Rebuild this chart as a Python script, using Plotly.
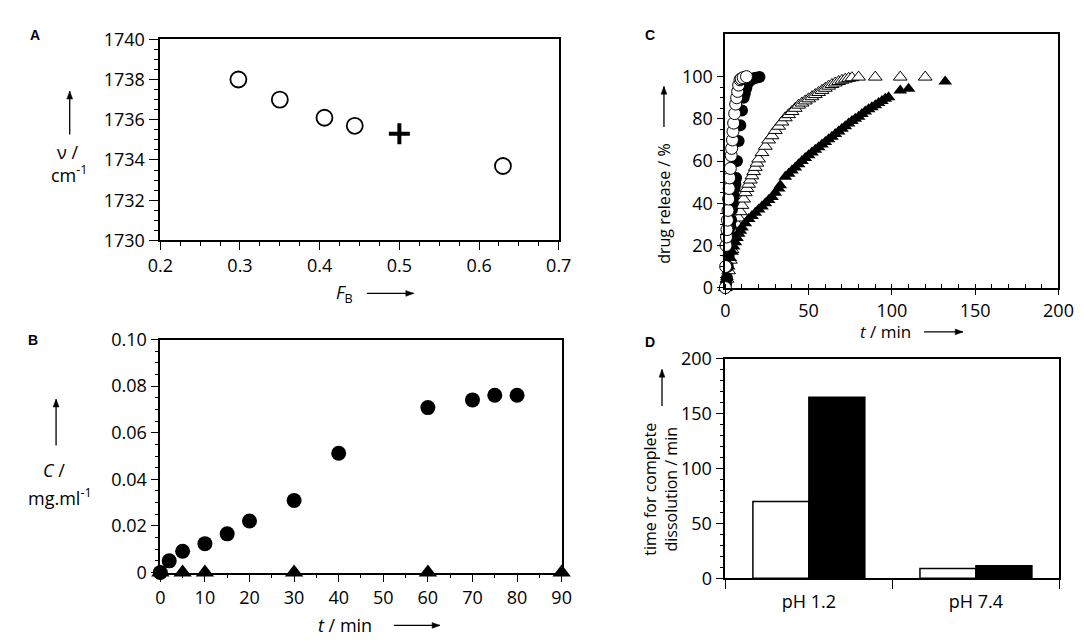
import plotly.graph_objects as go

# ---- panel A: carbonyl band position vs F_B ----
fb_open = [0.298, 0.35, 0.406, 0.444, 0.63]
nu_open = [1738.0, 1737.0, 1736.1, 1735.7, 1733.7]
fb_cross = [0.5]
nu_cross = [1735.3]

# ---- panel B: concentration vs time ----
tb_circ = [0, 2, 5, 10, 15, 20, 30, 40, 60, 70, 75, 80]
cb_circ = [0, 0.005, 0.0091, 0.0124, 0.0166, 0.0221, 0.0309, 0.0512, 0.0708, 0.0741, 0.0761, 0.0761]
tb_tri = [0, 5, 10, 30, 60, 90]
cb_tri = [0, 0, 0, 0, 0, 0]

# ---- panel C: drug release curves ----
tc_open_circ = [0, 0.2, 0.4, 0.7, 1, 1.3, 1.6, 2, 2.3, 2.6, 3, 3.5, 3.8, 4.3, 4.6, 5, 5.6,
                6.2, 6.8, 7.4, 8, 8.8, 9.5, 10.7, 12.7]
rc_open_circ = [0, 10, 20, 24, 27.5, 32, 36.6, 42, 47, 52, 56.5, 62.6, 66, 70, 74, 78, 82.5,
                87, 90, 93, 96, 98.5, 99, 99.5, 100]
tc_fill_circ = [0, 0.5, 1, 1.5, 2, 2.3, 2.7, 3, 3.5, 4, 4.5, 5, 5.5, 6, 6.5, 7, 8, 9, 10,
                11, 11.7, 12.5, 13.7, 15.6, 17, 18.5, 20.5]
rc_fill_circ = [0, 2, 4.5, 10, 15, 21, 25, 29, 32, 37, 40, 43.5, 47, 49, 52, 60, 69.5, 77, 84,
                90, 92, 94.5, 97, 98.5, 99.2, 99.5, 99.8]
tc_open_tri = [0, 1, 2, 3, 4, 5, 6, 7, 8, 9, 10, 11, 12, 13, 14, 15, 16, 17, 18, 19, 20,
               22, 24, 26, 28, 30, 32, 34, 36, 38, 40, 42, 44, 46, 48, 50, 52, 54, 56, 58,
               60, 62, 64, 66, 68, 70, 72, 74, 76, 80, 90, 105, 120]
rc_open_tri = [0, 4, 8, 13, 18, 22, 26, 30, 33, 36, 39, 42, 45, 47, 49, 51, 53, 55, 57, 59, 61,
               64, 67, 70, 72, 74.5, 76.5, 78.5, 80.5, 82, 83.5, 85, 86.5, 87.5, 88.5, 89.5,
               90.5, 91.5, 92.5, 93.5, 94.5, 95.5, 96.3, 97, 97.7, 98.3, 98.8, 99.2, 99.5,
               99.8, 99.8, 99.8, 99.8]
tc_fill_tri = [0, 1, 2, 3, 4, 5, 6, 7, 8, 9, 10, 12, 14, 16, 18, 20, 22, 24, 26, 28, 30, 32, 33,
               36, 38, 40, 42, 44, 46, 48, 50, 52, 54, 56, 58, 60, 62, 64, 66, 68, 70, 72, 74,
               76, 78, 80, 82, 84, 86, 88, 90, 92, 94, 96, 98, 105, 110, 132]
rc_fill_tri = [0, 5, 10, 14, 17, 19.5, 21.5, 23.5, 25.5, 27, 28.5, 30.5, 32.5, 34, 35.5, 37,
               38.5, 40, 41.5, 43, 45, 47, 48.5,
               52.5, 54, 55.5, 57, 58.5, 60, 61.5, 62.8, 64, 65.3, 66.5, 67.8, 69, 70.3, 71.5,
               72.8, 74, 75.3, 76.5, 77.8, 79, 80, 81, 82.3, 83.5, 84.5, 85.5, 86.5, 87.5,
               88.5, 89.5, 90.3, 93.5, 94.3, 97.7]

# ---- panel D: time for complete dissolution ----
ph_labels = ["pH 1.2", "pH 7.4"]
ph_pos = [0, 1]
diss_open = [70, 9]
diss_fill = [165, 11.5]

FONT = "Open Sans"
W, H = 1084, 640


def px(x):
    return x / W


def py(y):
    return 1 - y / H


fig = go.Figure()

# A
fig.add_trace(go.Scatter(x=fb_open, y=nu_open, mode="markers", xaxis="x", yaxis="y",
                         marker=dict(symbol="circle-open", size=16, color="black",
                                     line=dict(width=1.8, color="black")),
                         cliponaxis=False))
fig.add_trace(go.Scatter(x=fb_cross, y=nu_cross, mode="markers", xaxis="x", yaxis="y",
                         marker=dict(symbol="cross-thin", size=15, color="black",
                                     line=dict(width=4, color="black")),
                         cliponaxis=False))
# B
fig.add_trace(go.Scatter(x=tb_circ, y=cb_circ, mode="markers", xaxis="x2", yaxis="y2",
                         marker=dict(symbol="circle", size=15, color="black"),
                         cliponaxis=False))
fig.add_trace(go.Scatter(x=tb_tri, y=cb_tri, mode="markers", xaxis="x2", yaxis="y2",
                         marker=dict(symbol="triangle-up", size=16, color="black"),
                         cliponaxis=False))
# C
fig.add_trace(go.Scatter(x=tc_open_tri, y=rc_open_tri, mode="markers", xaxis="x3", yaxis="y3",
                         marker=dict(symbol="triangle-up", size=12, color="white",
                                     line=dict(width=1, color="black")),
                         cliponaxis=False))
fig.add_trace(go.Scatter(x=tc_fill_tri, y=rc_fill_tri, mode="markers", xaxis="x3", yaxis="y3",
                         marker=dict(symbol="triangle-up", size=12, color="black"),
                         cliponaxis=False))
fig.add_trace(go.Scatter(x=tc_fill_circ, y=rc_fill_circ, mode="markers", xaxis="x3", yaxis="y3",
                         marker=dict(symbol="circle", size=12, color="black"),
                         cliponaxis=False))
fig.add_trace(go.Scatter(x=tc_open_circ, y=rc_open_circ, mode="markers", xaxis="x3", yaxis="y3",
                         marker=dict(symbol="circle", size=12, color="white",
                                     line=dict(width=1, color="black")),
                         cliponaxis=False))
# D
fig.add_trace(go.Bar(x=ph_pos, y=diss_open, xaxis="x4", yaxis="y4", offsetgroup="a",
                     marker=dict(color="white", line=dict(color="black", width=1.5))))
fig.add_trace(go.Bar(x=ph_pos, y=diss_fill, xaxis="x4", yaxis="y4", offsetgroup="b",
                     marker=dict(color="black", line=dict(color="black", width=1.5))))

axis_common = dict(showline=True, linecolor="black", linewidth=1.6, mirror=True,
                   showgrid=False, zeroline=False, ticks="outside", tickcolor="black",
                   tickwidth=1.3, tickfont=dict(family=FONT, size=18, color="black"))

fig.update_layout(
    width=W, height=H, margin=dict(l=0, r=0, t=0, b=0),
    paper_bgcolor="white", plot_bgcolor="white", showlegend=False,
    barmode="group", bargap=0.33, bargroupgap=0,
    font=dict(family=FONT, color="black"),
    xaxis=dict(axis_common, domain=[px(143), px(552)], anchor="y", range=[0.2, 0.7],
               tickvals=[0.2, 0.3, 0.4, 0.5, 0.6, 0.7], ticklen=8,
               minor=dict(dtick=0.025, ticklen=4, ticks="outside", tickcolor="black")),
    yaxis=dict(axis_common, domain=[py(228), py(19)], anchor="x", range=[1730, 1740],
               dtick=2, ticklen=10,
               minor=dict(dtick=0.5, ticklen=5, ticks="outside", tickcolor="black")),
    xaxis2=dict(axis_common, domain=[px(143), px(555)], anchor="y2", range=[0, 90],
                dtick=10, ticklen=8,
                minor=dict(dtick=5, ticklen=4, ticks="outside", tickcolor="black")),
    yaxis2=dict(axis_common, domain=[py(573), py(331)], anchor="x2", range=[0, 0.1],
                tickvals=[0, 0.02, 0.04, 0.06, 0.08, 0.10],
                ticktext=["0", "0.02", "0.04", "0.06", "0.08", "0.10"], ticklen=8,
                minor=dict(dtick=0.005, ticklen=4, ticks="outside", tickcolor="black")),
    xaxis3=dict(axis_common, domain=[px(723), px(1065)], anchor="y3", range=[0, 200],
                dtick=50, ticklen=6,
                minor=dict(dtick=10, ticklen=4, ticks="inside", tickcolor="black")),
    yaxis3=dict(axis_common, domain=[py(277), py(14)], anchor="x3", range=[0, 120],
                tickvals=[0, 20, 40, 60, 80, 100], ticklen=7,
                minor=dict(tickvals=[v for v in range(0, 101, 5)], ticklen=4,
                           ticks="outside", tickcolor="black")),
    xaxis4=dict(axis_common, domain=[px(723), px(1066)], anchor="y4", range=[-0.5, 1.5],
                tickvals=ph_pos, ticktext=ph_labels, ticks="", ticklabelstandoff=6,
                minor=dict(tickvals=[-0.5, 0.5, 1.5], ticklen=9, ticks="outside",
                           tickcolor="black", tickwidth=1.3)),
    yaxis4=dict(axis_common, domain=[py(579), py(351)], anchor="x4", range=[0, 200],
                dtick=50, ticklen=8,
                minor=dict(dtick=10, ticklen=4, ticks="outside", tickcolor="black")),
)

ann = []
shapes = []


def text(x, y, s, size=18, angle=0, family=FONT):
    ann.append(dict(x=px(x), y=py(y), xref="paper", yref="paper", text=s, showarrow=False,
                    xanchor="center", yanchor="middle", textangle=angle,
                    font=dict(family=family, size=size, color="black")))


def arrow(x0, y0, x1, y1):
    # thin line with a small filled head at (x1, y1), in pixel coords
    hl, hw = 8, 3
    shapes.append(dict(type="line", xref="paper", yref="paper",
                       x0=px(x0), y0=py(y0), x1=px(x1), y1=py(y1),
                       line=dict(color="black", width=1.3)))
    if y0 == y1:
        pts = [(x1, y1), (x1 - hl, y1 - hw), (x1 - hl, y1 + hw)]
    else:
        pts = [(x1, y1), (x1 - hw, y1 + hl), (x1 + hw, y1 + hl)]
    path = "M " + " L ".join(f"{px(a)},{py(b)}" for a, b in pts) + " Z"
    shapes.append(dict(type="path", xref="paper", yref="paper", path=path,
                       fillcolor="black", line=dict(color="black", width=0.5)))


# panel letters
text(14, 15, "<b>A</b>", size=14, family="Liberation Sans")
text(12, 331, "<b>B</b>", size=14, family="Liberation Sans")
text(646, 15, "<b>C</b>", size=14, family="Liberation Sans")
text(646, 333, "<b>D</b>", size=14, family="Liberation Sans")

# A labels
arrow(50, 118, 50, 73)
text(48, 136, "ν /", size=18)
text(50, 159, "cm<sup>-1</sup>", size=18)
text(332, 283, "<i>F</i><sub>B</sub>", size=18)
arrow(355, 283, 403, 283)

# B labels
arrow(36, 441, 36, 393)
text(34, 467, "<i>C</i> /", size=18)
text(40, 495, "mg.ml<sup>-1</sup>", size=18)
text(333, 628, "<i>t</i> / min", size=18)
arrow(383, 628, 430, 628)

# C labels
text(660, 190, "drug release / %", size=16, angle=-90)
arrow(660, 110, 660, 68)
text(887, 323, "<i>t</i> / min", size=17)
arrow(927, 323, 967, 323)

# D labels
text(657, 487, "time for complete<br>dissolution / min", size=16, angle=-90)
arrow(658, 400, 658, 362)

fig.update_layout(annotations=ann, shapes=shapes)

fig.write_html("out.html")
